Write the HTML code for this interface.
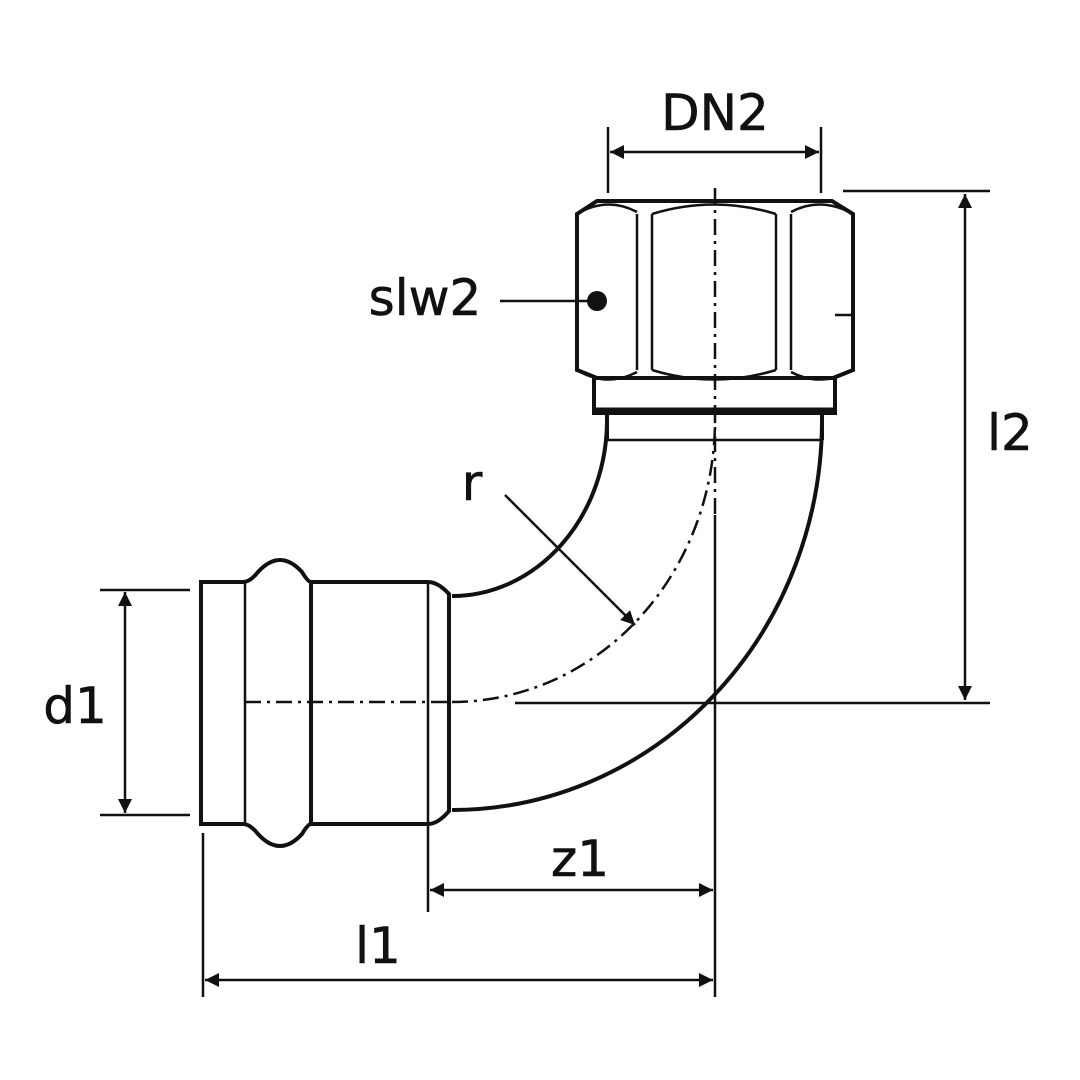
<!DOCTYPE html>
<html><head><style>body{margin:0;background:#fff}svg{display:block}text{font-family:"DejaVu Sans","Liberation Sans",sans-serif;font-size:50px;fill:#111;stroke:#111;stroke-width:0.6}</style></head><body>
<svg width="1080" height="1080" viewBox="0 0 1080 1080" xmlns="http://www.w3.org/2000/svg">
<defs><marker id="a" viewBox="0 0 10 10" refX="10" refY="5" markerWidth="34" markerHeight="14" markerUnits="userSpaceOnUse" orient="auto-start-reverse"><path d="M0,0L10,5L0,10z" fill="#111"/></marker></defs>
<g fill="none" stroke="#111" stroke-width="4">
<path d="M201,582H243Q250,582 258,572Q280,548 302,572Q308,582 311,582H428Q438,582 449,594V811Q438,824 428,824H311Q308,824 302,834Q280,858 258,834Q250,824 243,824H201Z"/>
<line x1="311" y1="582" x2="311" y2="824"/>
<line x1="449" y1="594" x2="449" y2="811"/>
<path d="M452,596A155,176 0 0 0 607,420"/>
<path d="M452,810A370,390 0 0 0 822,420"/>
<path d="M597,201H832L853,214V370L833,378H597L577,370V214Z"/>
<path d="M594,378H835V413H594Z"/>
<line x1="607" y1="413" x2="607" y2="440"/><line x1="822" y1="413" x2="822" y2="440"/>
</g>
<g fill="none" stroke="#111" stroke-width="2.5">
<line x1="245" y1="582" x2="245" y2="824"/>
<line x1="428" y1="582" x2="428" y2="912"/>
<path d="M637,214V370M652,214V370M776,214V370M791,214V370"/>
<path d="M577,214Q607,196 637,212M652,214Q714,195 776,214M791,212Q821,196 853,214"/>
<path d="M577,370Q607,388 637,372M652,370Q714,389 776,370M791,372Q821,388 853,370"/>
<line x1="607" y1="440" x2="822" y2="440"/>
<line x1="835" y1="315" x2="853" y2="315"/>
<line x1="595" y1="410" x2="835" y2="410" stroke-width="5"/>
<line x1="715" y1="188" x2="715" y2="515" stroke-dasharray="16,6,3,6"/>
<line x1="245" y1="702" x2="452" y2="702" stroke-dasharray="16,6,3,6"/>
<path d="M452,702A263,282 0 0 0 715,420" stroke-dasharray="16,6,3,6"/>
<line x1="608" y1="127" x2="608" y2="193"/><line x1="821" y1="127" x2="821" y2="193"/>
<line x1="843" y1="191" x2="990" y2="191"/><line x1="515" y1="703" x2="990" y2="703"/>
<line x1="100" y1="590" x2="190" y2="590"/><line x1="100" y1="815" x2="190" y2="815"/>
<line x1="203" y1="833" x2="203" y2="997"/><line x1="715" y1="515" x2="715" y2="997"/>
<line x1="500" y1="301" x2="590" y2="301"/>
<line x1="610" y1="152" x2="819" y2="152" marker-start="url(#a)" marker-end="url(#a)"/>
<line x1="965" y1="194" x2="965" y2="700" marker-start="url(#a)" marker-end="url(#a)"/>
<line x1="125" y1="592" x2="125" y2="813" marker-start="url(#a)" marker-end="url(#a)"/>
<line x1="430" y1="890" x2="713" y2="890" marker-start="url(#a)" marker-end="url(#a)"/>
<line x1="205" y1="980" x2="713" y2="980" marker-start="url(#a)" marker-end="url(#a)"/>
<line x1="505" y1="495" x2="635" y2="625" marker-end="url(#a)"/>
</g>
<circle cx="597" cy="301" r="10" fill="#111"/>
<text x="715" y="130" text-anchor="middle">DN2</text>
<text x="425" y="315" text-anchor="middle">slw2</text>
<text x="1010" y="450" text-anchor="middle">l2</text>
<text x="472" y="500" text-anchor="middle">r</text>
<text x="75" y="723" text-anchor="middle">d1</text>
<text x="580" y="876" text-anchor="middle">z1</text>
<text x="378" y="963" text-anchor="middle">l1</text>
</svg>
</body></html>
